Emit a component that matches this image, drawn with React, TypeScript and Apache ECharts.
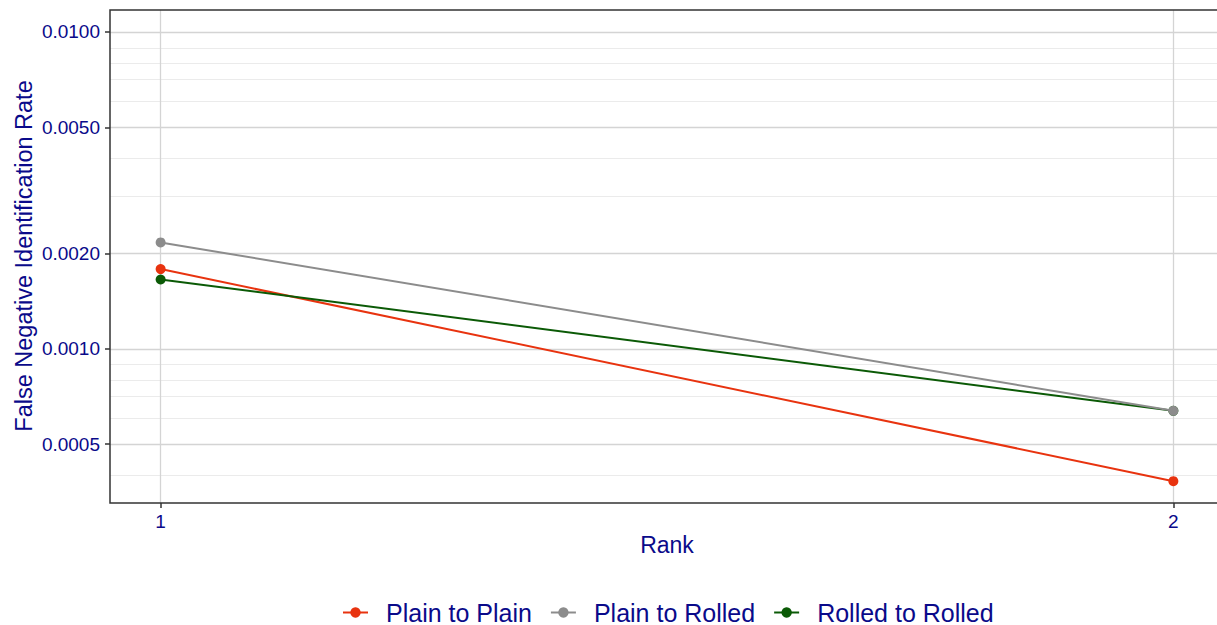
import React, { useEffect, useRef } from "react";
import * as echarts from "echarts";

const rankValues = [1, 2];
const plainToPlain = [0.001785, 0.000382];
const plainToRolled = [0.002166, 0.000637];
const rolledToRolled = [0.001655, 0.000637];
const seriesNames = ["Plain to Plain", "Plain to Rolled", "Rolled to Rolled"];
const seriesColors = ["#E8330F", "#8C8C8C", "#0B5A06"];
const yMajorBreaks = [0.0005, 0.001, 0.002, 0.005, 0.01];
const yMinorBreaks = [0.0004, 0.0006, 0.0007, 0.0008, 0.0009, 0.003, 0.004, 0.006, 0.007, 0.008, 0.009];
const yLimits = [0.000326, 0.01173];
const xLimits = [0.95, 2.05];
const xBreaks = [1, 2];

const TEXT = "#0A0A8A";
const FONT = "Liberation Sans, Arial, Helvetica, sans-serif";

export default function App() {
  const ref = useRef<HTMLDivElement>(null);
  useEffect(() => {
    if (!ref.current) return;
    const chart = echarts.init(ref.current, null, { renderer: "svg" });
    const lg = (v: number) => Math.log10(v);
    const mk = (vals: number[]) => rankValues.map((r, i) => [r, lg(vals[i])]);
    const allSeries = [plainToPlain, plainToRolled, rolledToRolled];
    const seriesZ = [4, 7, 5];
    const gridLines: any[] = [
      ...yMinorBreaks.map((v) => ({ yAxis: lg(v), lineStyle: { color: "#EBEBEB", width: 1, type: "solid" } })),
      ...yMajorBreaks.map((v) => ({ yAxis: lg(v), lineStyle: { color: "#D4D4D4", width: 1.3, type: "solid" } })),
      ...xBreaks.map((v) => ({ xAxis: v, lineStyle: { color: "#D4D4D4", width: 1.3, type: "solid" } })),
    ];
    chart.setOption({
      animation: false,
      backgroundColor: "#ffffff",
      textStyle: { fontFamily: FONT },
      grid: {
        left: 110,
        top: 10,
        width: 1114,
        height: 493,
        show: true,
        borderColor: "#333333",
        borderWidth: 1.5,
        backgroundColor: "transparent",
        z: 3,
      },
      xAxis: {
        type: "value",
        min: xLimits[0],
        max: xLimits[1],
        axisLine: { show: false },
        splitLine: { show: false },
        axisTick: { show: true, customValues: xBreaks, length: 5, lineStyle: { color: "#333333", width: 1.5 } },
        axisLabel: {
          customValues: xBreaks,
          formatter: (v: number) => String(v),
          color: TEXT,
          fontSize: 19,
          fontFamily: FONT,
          margin: 9,
        },
      },
      yAxis: {
        type: "value",
        min: lg(yLimits[0]),
        max: lg(yLimits[1]),
        axisLine: { show: false },
        splitLine: { show: false },
        axisTick: {
          show: true,
          customValues: yMajorBreaks.map(lg),
          length: 5,
          lineStyle: { color: "#333333", width: 1.5 },
        },
        axisLabel: {
          customValues: yMajorBreaks.map(lg),
          formatter: (v: number) => Math.pow(10, v).toFixed(4),
          color: TEXT,
          fontSize: 19,
          fontFamily: FONT,
          margin: 10,
        },
      },
      legend: {
        data: seriesNames,
        left: 342,
        top: 600,
        padding: 0,
        itemWidth: 25,
        itemHeight: 13,
        itemGap: 18,
        textStyle: { color: TEXT, fontSize: 25, fontFamily: FONT, padding: [0, 0, 0, 13] },
      },
      graphic: [
        {
          type: "text",
          x: 24,
          y: 256,
          rotation: Math.PI / 2,
          style: {
            text: "False Negative Identification Rate",
            fill: TEXT,
            fontSize: 23.5,
            fontFamily: FONT,
            align: "center",
            verticalAlign: "middle",
          },
        },
        {
          type: "text",
          x: 667,
          y: 545,
          style: {
            text: "Rank",
            fill: TEXT,
            fontSize: 23,
            fontFamily: FONT,
            align: "center",
            verticalAlign: "middle",
          },
        },
      ],
      series: [
        {
          name: "__grid",
          type: "line",
          data: [],
          z: 0,
          silent: true,
          markLine: {
            silent: true,
            symbol: ["none", "none"],
            label: { show: false },
            z: 0,
            data: gridLines,
          },
        },
        ...allSeries.map((vals, i) => ({
          name: seriesNames[i],
          type: "line",
          data: mk(vals),
          symbol: "circle",
          symbolSize: 10,
          showSymbol: true,
          z: seriesZ[i],
          itemStyle: { color: seriesColors[i] },
          lineStyle: { color: seriesColors[i], width: 2 },
        })),
      ],
    });
    return () => chart.dispose();
  }, []);
  return (
    <div style={{ position: "fixed", left: 0, top: 0, width: 1217, height: 625, overflow: "hidden", background: "#fff" }}>
      <div ref={ref} style={{ width: 1240, height: 625 }} />
    </div>
  );
}
